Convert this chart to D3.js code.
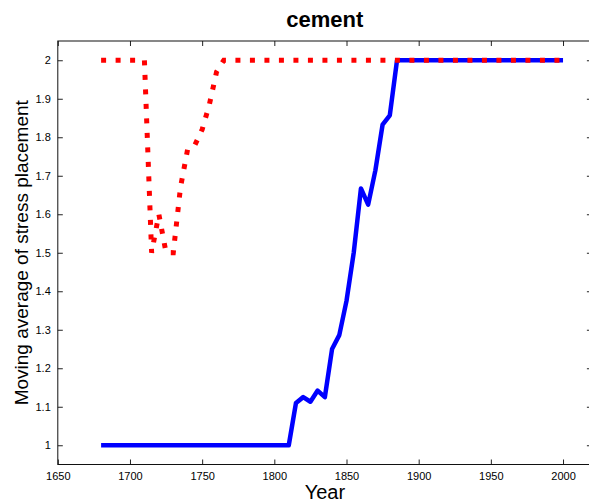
<!DOCTYPE html>
<html>
<head>
<meta charset="utf-8">
<script src="https://cdn.jsdelivr.net/npm/d3@7"></script>
<style>
  body { margin: 0; background: #fff; }
  svg { font-family: "Liberation Sans", Arial, sans-serif; }
  .axis path { display: none; }
  .axis line { stroke: #222; }
  .axis text { font-size: 11px; fill: #000; }
</style>
</head>
<body>
<svg id="chart"></svg>
<script>
// moving average, blue series (solid)
const blueYears = [1680, 1685, 1690, 1695, 1700, 1705, 1710, 1715, 1720, 1725, 1730, 1735, 1740, 1745, 1750,
  1755, 1760, 1765, 1770, 1775, 1780, 1785, 1790, 1795, 1800, 1805, 1810, 1815, 1820, 1825, 1830, 1835,
  1840, 1845, 1850, 1855, 1860, 1865, 1870, 1875, 1880, 1885, 1890, 1900, 1950, 2000];
const blueValues = [1, 1, 1, 1, 1, 1, 1, 1, 1, 1, 1, 1, 1, 1, 1,
  1, 1, 1, 1, 1, 1, 1, 1, 1, 1, 1, 1, 1.11, 1.125, 1.113, 1.142, 1.125,
  1.25, 1.286, 1.375, 1.5, 1.667, 1.625, 1.714, 1.833, 1.857, 2, 2, 2, 2, 2];

// red series (dotted)
const redYears = [1680, 1690, 1700, 1710, 1715, 1720, 1725, 1730, 1735, 1740, 1745, 1750, 1755, 1760, 1765,
  1800, 1850, 1900, 1950, 2000];
const redValues = [2, 2, 2, 2, 1.5, 1.6, 1.5, 1.5, 1.67, 1.77, 1.78, 1.82, 1.885, 1.97, 2,
  2, 2, 2, 2, 2];

const xTicks = [1650, 1700, 1750, 1800, 1850, 1900, 1950, 2000];
const yTicks = [1, 1.1, 1.2, 1.3, 1.4, 1.5, 1.6, 1.7, 1.8, 1.9, 2];

const width = 589, height = 503;
const margin = {left: 57.8, right: 591.9, top: 41, bottom: 464.5};

const svg = d3.select('#chart').attr('width', width).attr('height', height);

const x = d3.scaleLinear().domain([1650, 2020]).range([margin.left, margin.right]);
const y = d3.scaleLinear().domain([0.95, 2.05]).range([margin.bottom, margin.top]);

// axes, matlab style: ticks pointing inward, on all four sides
svg.append('g').attr('class', 'axis')
  .attr('transform', `translate(0,${margin.bottom})`)
  .call(d3.axisBottom(x).tickValues(xTicks).tickSizeInner(-5).tickSizeOuter(0).tickPadding(8).tickFormat(d3.format('d')));
svg.append('g').attr('class', 'axis')
  .attr('transform', `translate(0,${margin.top})`)
  .call(d3.axisTop(x).tickValues(xTicks).tickSizeInner(-5).tickSizeOuter(0).tickFormat(''));
svg.append('g').attr('class', 'axis')
  .attr('transform', `translate(${margin.left},0)`)
  .call(d3.axisLeft(y).tickValues(yTicks).tickSizeInner(-5).tickSizeOuter(0).tickPadding(7).tickFormat(d3.format('')));
svg.append('g').attr('class', 'axis')
  .attr('transform', `translate(${margin.right},0)`)
  .call(d3.axisRight(y).tickValues(yTicks).tickSizeInner(-5).tickSizeOuter(0).tickFormat(''));

// box
svg.append('rect')
  .attr('x', margin.left).attr('y', margin.top)
  .attr('width', margin.right - margin.left).attr('height', margin.bottom - margin.top)
  .attr('fill', 'none').attr('stroke', '#111').attr('stroke-width', 1);

const line = d3.line().x(d => x(d[0])).y(d => y(d[1]));

svg.append('path')
  .datum(blueYears.map((yr, i) => [yr, blueValues[i]]))
  .attr('d', line)
  .attr('fill', 'none')
  .attr('stroke', '#0000ff')
  .attr('stroke-width', 4.5)
  .attr('stroke-linejoin', 'round');

svg.append('path')
  .datum(redYears.map((yr, i) => [yr, redValues[i]]))
  .attr('d', line)
  .attr('fill', 'none')
  .attr('stroke', '#ff0000')
  .attr('stroke-width', 5)
  .attr('stroke-dasharray', '5,9.5');

// labels
svg.append('text')
  .attr('x', (margin.left + margin.right) / 2).attr('y', 27)
  .attr('text-anchor', 'middle')
  .style('font-size', '22px').style('font-weight', 'bold')
  .text('cement');

svg.append('text')
  .attr('x', (margin.left + margin.right) / 2).attr('y', 499)
  .attr('text-anchor', 'middle')
  .style('font-size', '20px')
  .text('Year');

svg.append('text')
  .attr('transform', `translate(28,${(margin.top + margin.bottom) / 2}) rotate(-90)`)
  .attr('text-anchor', 'middle')
  .style('font-size', '19px')
  .text('Moving average of stress placement');
</script>
</body>
</html>
